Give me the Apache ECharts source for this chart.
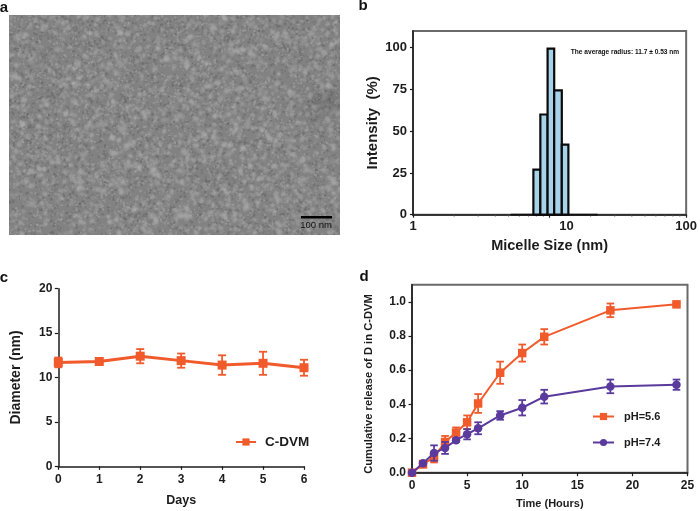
<!DOCTYPE html>
<html><head><meta charset="utf-8">
<style>html,body{margin:0;padding:0;background:#fff}#c{width:700px;height:511px}</style>
<script src="https://cdn.jsdelivr.net/npm/echarts@6/dist/echarts.min.js"></script>
</head><body><div id="c"></div>
<script>
// Panel b
const sizeBinEdges = [7.61, 8.56, 9.67, 10.81, 12.29, 13.73];
const intensity = [27, 60, 99.5, 74.5, 42];
const baselineSpan = [5.2, 22.5];
const minorSizeTicks = [2,3,4,5,6,7,8,9,20,30,40,50,60,70,80,90];
const intensityTicks = [0,25,50,75,100];
// Panel c
const days = [0,1,2,3,4,5,6];
const diameter = [11.7,11.8,12.4,11.9,11.4,11.6,11.1];
const diameterErr = [0.55,0.2,0.8,0.8,1.1,1.3,0.9];
// Panel d
const hours = [0,1,2,3,4,5,6,8,10,12,18,24];
const release56 = [0,0.05,0.09,0.18,0.235,0.295,0.405,0.585,0.70,0.795,0.95,0.985];
const err56 = [0,0.02,0.03,0.035,0.03,0.04,0.055,0.065,0.05,0.045,0.04,0.01];
const release74 = [0,0.055,0.115,0.145,0.19,0.225,0.26,0.335,0.38,0.445,0.505,0.515];
const err74 = [0,0.01,0.045,0.035,0.01,0.03,0.035,0.025,0.045,0.04,0.04,0.03];
const releaseTicks = [0,0.2,0.4,0.6,0.8,1.0];

const ORANGE='#f15a2b', PURPLE='#5a3a9c', INK='#1c1c1c', FONT='"Liberation Sans",Arial,sans-serif';

// Micrograph texture for panel a (a picture, not data)
function micrograph(w,h){
  const cv=document.createElement('canvas');cv.width=w;cv.height=h;
  const g=cv.getContext('2d');
  let s=12345;const r=()=>{s=(s*1664525+1013904223)%4294967296;return s/4294967296;};
  g.fillStyle='#828282';g.fillRect(0,0,w,h);
  g.filter='blur(0.7px)';
  for(let i=0;i<9000;i++){
    const v=r()<0.5?150+r()*15:100+r()*14;
    g.fillStyle='rgba('+v+','+v+','+v+',0.6)';
    g.beginPath();g.arc(r()*w,r()*h,0.6+r()*0.8,0,7);g.fill();
  }
  g.filter='blur(1px)';
  for(let i=0;i<1500;i++){
    const v=150+r()*28;
    g.fillStyle='rgba('+v+','+v+','+v+',0.75)';
    g.beginPath();g.ellipse(r()*w,r()*h,1.2+r()*1.9,1.1+r()*1.4,r()*3,0,7);g.fill();
  }
  g.filter='blur(9px)';
  g.fillStyle='rgba(60,60,60,0.4)';
  g.beginPath();g.ellipse(314,88,13,10,0,0,7);g.fill();
  g.filter='none';
  return cv;
}

const valueLabel=(size,margin)=>({fontFamily:FONT,fontWeight:'bold',fontSize:size,color:INK,margin});
const axisLine={show:true,onZero:false,lineStyle:{color:INK,width:1.5}};
const tick=(len,vals)=>({show:true,length:len,lineStyle:{color:INK,width:1.2},customValues:vals});

function errorSeries(xs,ys,es,color,xi,yi,z,cap){
  return {type:'custom',xAxisIndex:xi,yAxisIndex:yi,z,silent:true,clip:false,
    data:xs.map((x,i)=>[x,ys[i]-es[i],ys[i]+es[i]]),
    encode:{x:0,y:[1,2]},
    renderItem(p,api){
      const a=api.coord([api.value(0),api.value(1)]),b=api.coord([api.value(0),api.value(2)]);
      const st={stroke:color,lineWidth:1.8,fill:null};
      const L=(x1,y1,x2,y2)=>({type:'line',shape:{x1,y1,x2,y2},style:st});
      return {type:'group',children:[L(a[0],a[1],b[0],b[1]),L(a[0]-cap,a[1],a[0]+cap,a[1]),L(b[0]-cap,b[1],b[0]+cap,b[1])]};
    }};
}
function lineSeries(name,xs,ys,color,xi,yi,z,symbol,size,width){
  return {type:'line',name,xAxisIndex:xi,yAxisIndex:yi,z,data:xs.map((x,i)=>[x,ys[i]]),
    symbol,symbolSize:size,showSymbol:true,lineStyle:{color,width},itemStyle:{color},clip:false};
}

const chart=echarts.init(document.getElementById('c'),null,{renderer:'canvas'});
const txt=(text,x,y,size,weight,extra)=>({type:'text',x,y,silent:true,z:20,
  style:Object.assign({text,fontFamily:FONT,fontSize:size,fontWeight:weight,fill:'#111',align:'center',verticalAlign:'middle'},extra||{})});

chart.setOption({
  animation:false,backgroundColor:'#fff',
  graphic:[
    {type:'image',x:9,y:15,z:1,silent:true,style:{image:micrograph(331,220),x:0,y:0,width:331,height:220}},
    {type:'rect',z:5,silent:true,shape:{x:301,y:216,width:31,height:2.5},style:{fill:'#000'}},
    txt('100 nm',316,225,9.5,'normal'),
    txt('a',4,8,15,'bold'),txt('b',363,6,15,'bold'),txt('c',4,278,15,'bold'),txt('d',364,277,15,'bold'),
    txt('The average radius: 11.7 \u00b1 0.53 nm',625,52.5,6.6,'bold'),
    {type:'text',x:369,y:384,rotation:Math.PI/2,silent:true,z:20,
      style:{text:'Cumulative release of D in C-DVM',fontFamily:FONT,fontSize:11.2,fontWeight:'bold',fill:INK,align:'center',verticalAlign:'middle'}}
  ],
  grid:[
    {left:413,top:31,width:276,height:183.7,show:true,borderColor:'#6a6a6a',borderWidth:2,backgroundColor:'transparent'},
    {left:58.3,top:288.7,width:245.7,height:177.6},
    {left:412,top:284.7,width:275.5,height:188,show:true,borderColor:'#6a6a6a',borderWidth:2,backgroundColor:'transparent'}
  ],
  xAxis:[
    {gridIndex:0,type:'log',logBase:10,min:1,max:100,axisLine,splitLine:{show:false},minorTick:{show:false},
      axisTick:{show:true,length:3,lineStyle:{color:INK,width:1.2}},
      axisLabel:Object.assign(valueLabel(13,5),{formatter:v=>v===10?'{s|10}':String(v),
        rich:{s:{padding:[0,0,0,34],fontFamily:FONT,fontWeight:'bold',fontSize:13,color:INK}}}),
      name:'Micelle Size (nm)',nameLocation:'middle',nameGap:24,
      nameTextStyle:{fontFamily:FONT,fontWeight:'bold',fontSize:14.5,color:INK}},
    {gridIndex:1,type:'value',min:0,max:6,interval:1,axisLine,splitLine:{show:false},
      axisTick:{show:true,length:3.5,lineStyle:{color:INK,width:1.2}},axisLabel:valueLabel(12,7),
      name:'Days',nameLocation:'middle',nameGap:28,
      nameTextStyle:{fontFamily:FONT,fontWeight:'bold',fontSize:12.5,color:INK}},
    {gridIndex:2,type:'value',min:0,max:25,interval:5,axisLine,splitLine:{show:false},
      axisTick:{show:true,length:3.5,lineStyle:{color:INK,width:1.2}},axisLabel:valueLabel(12,7),
      name:'Time (Hours)',nameLocation:'middle',nameGap:26,
      nameTextStyle:{fontFamily:FONT,fontWeight:'bold',fontSize:11,color:INK}}
  ],
  yAxis:[
    {gridIndex:0,type:'value',min:0,max:110,axisLine,splitLine:{show:false},
      axisTick:tick(3,intensityTicks),
      axisLabel:Object.assign(valueLabel(13,6),{customValues:intensityTicks}),
      name:'Intensity  (%)',nameLocation:'middle',nameGap:33,
      nameTextStyle:{fontFamily:FONT,fontWeight:'bold',fontSize:15,color:INK}},
    {gridIndex:1,type:'value',min:0,max:20,interval:5,axisLine,splitLine:{show:false},
      axisTick:{show:true,length:3.5,lineStyle:{color:INK,width:1.2}},axisLabel:valueLabel(12,6),
      name:'Diameter (nm)',nameLocation:'middle',nameGap:35,
      nameTextStyle:{fontFamily:FONT,fontWeight:'bold',fontSize:14,color:INK}},
    {gridIndex:2,type:'value',min:0,max:1.1,axisLine,splitLine:{show:false},
      axisTick:tick(3.5,releaseTicks),
      axisLabel:Object.assign(valueLabel(12,6),{customValues:releaseTicks,formatter:v=>v.toFixed(1)})}
  ],
  legend:[
    {data:['C-DVM'],left:230,top:430,itemWidth:20,itemHeight:9,
      textStyle:{fontFamily:FONT,fontWeight:'bold',fontSize:13.5,color:INK,padding:[0,0,0,4]}},
    {data:['pH=5.6','pH=7.4'],left:587,top:406,orient:'vertical',itemWidth:21,itemHeight:9,itemGap:15,
      textStyle:{fontFamily:FONT,fontWeight:'bold',fontSize:11,color:INK,padding:[0,0,0,5]}}
  ],
  series:[
    {type:'custom',xAxisIndex:0,yAxisIndex:0,z:3,silent:true,
      data:intensity.map((v,i)=>[sizeBinEdges[i],sizeBinEdges[i+1],v]),encode:{x:[0,1],y:2},
      renderItem(p,api){
        const a=api.coord([api.value(0),api.value(2)]),b=api.coord([api.value(1),0]);
        return {type:'rect',shape:{x:a[0],y:a[1],width:b[0]-a[0],height:b[1]-a[1]},
          style:{fill:'#a6d3ea',stroke:'#0a0a0a',lineWidth:2.2}};
      }},
    {type:'custom',xAxisIndex:0,yAxisIndex:0,z:2,silent:true,clip:false,
      data:minorSizeTicks.map(v=>[v,0]),encode:{x:0,y:1},
      renderItem(p,api){
        const a=api.coord([api.value(0),0]);
        return {type:'line',shape:{x1:a[0],y1:a[1],x2:a[0],y2:a[1]+2},style:{stroke:'#555',lineWidth:0.8}};
      }},
    {type:'line',xAxisIndex:0,yAxisIndex:0,z:2,symbol:'none',data:baselineSpan.map(v=>[v,0]),
      lineStyle:{color:'#111',width:2}},
    errorSeries(days,diameter,diameterErr,ORANGE,1,1,3,4),
    lineSeries('C-DVM',days,diameter,ORANGE,1,1,4,'rect',9,3),
    errorSeries(hours,release56,err56,ORANGE,2,2,3,3.8),
    lineSeries('pH=5.6',hours,release56,ORANGE,2,2,4,'rect',8.5,2),
    errorSeries(hours,release74,err74,PURPLE,2,2,5,3.8),
    lineSeries('pH=7.4',hours,release74,PURPLE,2,2,6,'circle',8.5,2)
  ]
});
</script></body></html>
